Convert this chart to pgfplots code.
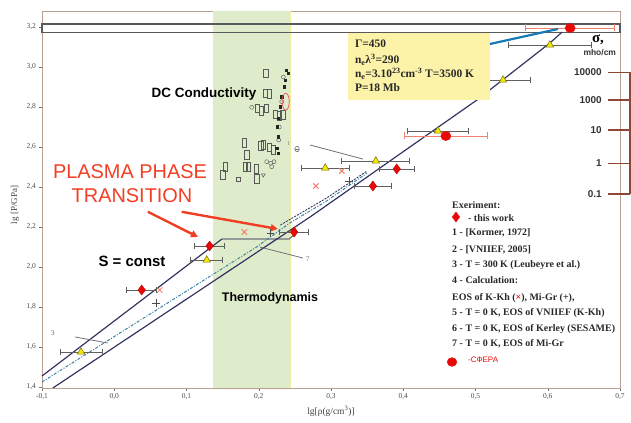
\documentclass[border=0pt]{standalone}
\usepackage{fontspec}
\setmainfont{Liberation Serif}
\newfontfamily\arialf{Liberation Sans}
\usepackage{pgfplots}
\pgfplotsset{compat=1.18}
\usetikzlibrary{arrows.meta}

\definecolor{navyline}{RGB}{52,52,98}
\definecolor{stepgrey}{RGB}{110,112,122}
\definecolor{tealdash}{RGB}{60,130,165}
\definecolor{bandgreen}{RGB}{223,236,203}
\definecolor{bandedge}{RGB}{238,238,160}
\definecolor{boxyellow}{RGB}{252,243,168}
\definecolor{pointer}{RGB}{20,122,182}
\definecolor{sigmabrown}{RGB}{140,72,52}
\definecolor{frametan}{RGB}{185,160,145}
\definecolor{ptred}{RGB}{232,8,8}
\definecolor{salmon}{RGB}{242,130,110}
\definecolor{triyellow}{RGB}{242,232,0}
\definecolor{triedge}{RGB}{120,110,20}
\definecolor{barGrey}{RGB}{95,95,95}
\definecolor{ppt}{RGB}{242,62,36}
\definecolor{legtext}{RGB}{40,40,40}

\begin{document}
\begin{tikzpicture}
\useasboundingbox (-42bp,-35bp) rectangle (589bp,388bp);
\begin{axis}[
  at={(0,0)}, anchor=south west,
  scale only axis, width=578bp, height=377bp,
  xmin=-0.1, xmax=0.7, ymin=1.395, ymax=3.28,
  clip=false,
  axis line style={draw=frametan, line width=0.8bp},
  xtick={-0.1,0,0.1,0.2,0.3,0.4,0.5,0.6,0.7},
  xticklabels={{-0,1},{0,0},{0,1},{0,2},{0,3},{0,4},{0,5},{0,6},{0,7}},
  ytick={1.4,1.6,1.8,2.0,2.2,2.4,2.6,2.8,3.0,3.2},
  yticklabels={{1,4},{1,6},{1,8},{2,0},{2,2},{2,4},{2,6},{2,8},{3,0},{3,2}},
  xtick pos=bottom, ytick pos=left, tick align=outside,
  major tick length=2.5bp,
  tick style={black!55, line width=0.5bp},
  ticklabel style={font=\fontsize{7.5}{9}\selectfont, text=black!70},
  error bars/error mark=|,
]

% shaded density interval of the transition
\addplot[fill=bandgreen, draw=none] coordinates {(0.1365,1.395) (0.1365,3.28) (0.244,3.28) (0.244,1.395)} -- cycle;
\addplot[bandedge, line width=1bp] coordinates {(0.244,1.395) (0.244,3.28)};

% strip at the top of the pressure range
\draw[black!65, line width=1.1bp] (axis cs:-0.1,3.173) rectangle (axis cs:0.7,3.215);

% model curves
\addplot[navyline, line width=1.2bp] coordinates {(-0.1,1.455) (0.149,2.14)};
\addplot[stepgrey, line width=1.1bp] coordinates {(0.149,2.14) (0.242,2.14) (0.25,2.165)};
\addplot[navyline, line width=1.2bp] coordinates {(-0.085,1.395) (0.271,2.25) (0.502,2.835) (0.603,3.12) (0.62,3.175)};
\addplot[tealdash, line width=1bp, dash pattern=on 3bp off 1.5bp on 1bp off 1.5bp] coordinates {(-0.1,1.425) (0.087,1.85) (0.197,2.10) (0.243,2.22) (0.294,2.33) (0.35,2.47)};
\addplot[navyline, line width=0.9bp, dash pattern=on 2bp off 1.2bp] coordinates {(0.23,2.21) (0.294,2.345) (0.35,2.48)};

% leader lines of the numbered curves
\addplot[stepgrey, line width=0.8bp] coordinates {(0.2015,2.10) (0.261,2.045)};
\addplot[stepgrey, line width=0.8bp] coordinates {(-0.054,1.65) (-0.009,1.62)};
\addplot[stepgrey, line width=0.8bp] coordinates {(0.271,2.61) (0.344,2.54)};
\addplot[only marks, mark=o, mark size=2.8bp, mark options={xscale=0.8, draw=black!55, line width=0.6bp}] coordinates {(0.253,2.59)};
\addplot[only marks, mark=-, mark size=2.2bp, mark options={draw=black!55, line width=0.6bp}] coordinates {(0.253,2.59)};
\node[font=\fontsize{7}{8}\selectfont, text=black!60, inner sep=0pt] at (axis cs:0.268,2.04) {7};
\node[font=\fontsize{7}{8}\selectfont, text=black!60, inner sep=0pt] at (axis cs:-0.085,1.67) {3};
\node[font=\fontsize{6}{7}\selectfont, text=black!50, inner sep=0pt] at (axis cs:0.241,2.615) {1};

% DC conductivity measurements
\addplot[only marks, mark=square, mark size=3.6bp, mark options={xscale=0.6, yscale=1.2, draw=black!65, fill=white, line width=0.6bp}] coordinates {
(0.2096,2.9685) (0.2087,2.8685) (0.2146,2.865) (0.198,2.7935) (0.2031,2.7815)
(0.21,2.7935) (0.2225,2.7635) (0.228,2.7565) (0.2331,2.76) (0.18,2.6215)
(0.1833,2.56) (0.2027,2.605) (0.2063,2.61) (0.2142,2.5985) (0.2201,2.585)
(0.181,2.5015) (0.1855,2.5015) (0.1962,2.49) (0.1972,2.44) (0.1533,2.5015)
(0.1501,2.46)};
\addplot[only marks, mark=square, mark size=2bp, mark options={draw=black!65, line width=0.5bp}] coordinates {(0.1717,2.4385)};
\addplot[only marks, mark=triangle, mark size=2.2bp, mark options={rotate=180, draw=black!65, line width=0.5bp}] coordinates {(0.2063,2.46)};
\addplot[only marks, mark=o, mark size=2bp, mark options={draw=black!60, line width=0.5bp}] coordinates {
(0.1902,2.7985) (0.211,2.5265) (0.2165,2.5185) (0.2211,2.5265) (0.2179,2.5015)
(0.234,2.95) (0.2318,2.8265) (0.2284,2.70) (0.2276,2.635)};
\addplot[only marks, mark=square*, mark size=1.2bp, mark options={fill=black!85, draw=black!85}] coordinates {
(0.2377,2.985) (0.2409,2.9685) (0.2363,2.935) (0.2349,2.9015) (0.2318,2.8515)
(0.2294,2.8015) (0.2271,2.7435) (0.2257,2.7015) (0.2271,2.6515) (0.2248,2.5935)
(0.2271,2.5685)};
\addplot[only marks, mark=o, mark size=8.5bp, mark options={xscale=0.42, draw=ptred!70, line width=0.7bp}] coordinates {(0.2373,2.8265)};

% calculations: K-Kh (x) and Mi-Gr (+)
\addplot[only marks, mark=x, mark size=3.8bp, mark options={draw=salmon, line width=1bp}] coordinates {
(0.063,1.885) (0.18,2.175) (0.279,2.405) (0.315,2.48)};
\addplot[only marks, mark=+, mark size=3.8bp, mark options={draw=black!70, line width=0.8bp}] coordinates {
(0.058,1.82) (0.216,2.17) (0.325,2.43)};

% shock-compression data with density error bars
\addplot[only marks, mark=triangle*, mark size=4.3bp, mark options={fill=triyellow, draw=triedge, line width=0.5bp},
  error bars/.cd, x dir=both, x explicit,
  error bar style={barGrey, line width=0.8bp},
  error mark options={barGrey, mark size=3bp, line width=0.8bp}]
  table[x=x, y=y, x error=ex] {
x      y     ex
-0.046 1.575 0.029
0.128  2.035 0.022
0.292  2.495 0.033
0.362  2.53  0.047
0.448  2.68  0.042
0.538  2.935 0.038
0.603  3.11  0.058
};
\addplot[only marks, mark=diamond*, mark size=5bp, mark options={fill=ptred, draw=ptred!80!black, line width=0.4bp},
  error bars/.cd, x dir=both, x explicit,
  error bar style={barGrey, line width=0.8bp},
  error mark options={barGrey, mark size=3bp, line width=0.8bp}]
  table[x=x, y=y, x error=ex] {
x     y     ex
0.038 1.885 0.021
0.132 2.105 0.021
0.249 2.175 0.02
0.358 2.405 0.026
0.391 2.49  0.024
};
\addplot[only marks, mark=*, mark size=4.6bp, mark options={fill=ptred, draw=ptred, xscale=1.1},
  error bars/.cd, x dir=both, x explicit,
  error bar style={salmon, line width=0.9bp},
  error mark options={salmon, mark size=3.5bp, line width=0.9bp}]
  table[x=x, y=y, x error=ex] {
x     y     ex
0.459 2.655 0.058
0.631 3.195 0.062
};

% annotations
\node[font=\arialf\bfseries\fontsize{13.5}{15}\selectfont, inner sep=0pt] at (axis cs:0.1242,2.865) {DC Conductivity};
\node[font=\arialf\fontsize{20}{22}\selectfont, text=ppt, inner sep=0pt] at (axis cs:0.0218,2.475) {PLASMA PHASE};
\node[font=\arialf\fontsize{20}{22}\selectfont, text=ppt, inner sep=0pt] at (axis cs:0.0246,2.355) {TRANSITION};
\node[font=\arialf\bfseries\fontsize{15}{17}\selectfont, inner sep=0pt] at (axis cs:0.0246,2.03) {S = const};
\node[font=\arialf\bfseries\fontsize{12.5}{14}\selectfont, inner sep=0pt] at (axis cs:0.2156,1.845) {Thermodynamis};
\draw[ppt, line width=2.4bp, -{Triangle[length=7bp,width=7bp]}] (axis cs:0.0466,2.276) -- (axis cs:0.116,2.15);
\draw[ppt, line width=2.4bp, -{Triangle[length=7bp,width=7bp]}] (axis cs:0.0933,2.276) -- (axis cs:0.2264,2.19);

% plasma parameters
\fill[boxyellow] (axis cs:0.324,2.835) rectangle (axis cs:0.52,3.17);
\draw[pointer, line width=2.2bp] (axis cs:0.52,3.115) -- (axis cs:0.614,3.19);
\begin{scope}[every node/.style={anchor=west, inner sep=0pt, text=legtext, font=\bfseries\fontsize{11.5}{13}\selectfont}]
\node at (axis cs:0.333,3.115) {Γ=450};
\node at (axis cs:0.333,3.035) {n\textsubscript{e}λ\textsuperscript{3}=290};
\node at (axis cs:0.333,2.965) {n\textsubscript{e}=3.10\textsuperscript{23}cm\textsuperscript{-3} T=3500 K};
\node at (axis cs:0.333,2.895) {P=18 Mb};
\end{scope}

% conductivity scale
\draw[sigmabrown, line width=1.2bp] (axis cs:0.7138,2.975) -- (axis cs:0.7138,2.365);
\draw[sigmabrown, line width=1.2bp] (axis cs:0.6834,2.974) -- (axis cs:0.7138,2.974);
\draw[sigmabrown, line width=1.2bp] (axis cs:0.6834,2.835) -- (axis cs:0.7138,2.835);
\draw[sigmabrown, line width=1.2bp] (axis cs:0.6834,2.685) -- (axis cs:0.7138,2.685);
\draw[sigmabrown, line width=1.2bp] (axis cs:0.6834,2.518) -- (axis cs:0.7138,2.518);
\draw[sigmabrown, line width=1.2bp] (axis cs:0.6834,2.365) -- (axis cs:0.7138,2.365);
\begin{scope}[every node/.style={anchor=east, inner sep=0pt, text=black!80, font=\arialf\bfseries\fontsize{10}{12}\selectfont}]
\node at (axis cs:0.675,2.974) {10000};
\node at (axis cs:0.675,2.835) {1000};
\node at (axis cs:0.675,2.685) {10};
\node at (axis cs:0.675,2.518) {1};
\node at (axis cs:0.675,2.365) {0.1};
\end{scope}
\node[inner sep=0pt, font=\bfseries\fontsize{15}{17}\selectfont] at (axis cs:0.6696,3.135) {σ,};
\node[inner sep=0pt, text=black!80, font=\arialf\bfseries\fontsize{8.5}{10}\selectfont] at (axis cs:0.672,3.07) {mho/cm};

% key
\begin{scope}[every node/.style={anchor=west, inner sep=0pt, text=legtext, font=\bfseries\fontsize{10}{12}\selectfont}]
\node at (axis cs:0.4675,2.31) {Exeriment:};
\node at (axis cs:0.4896,2.245) {- this work};
\node at (axis cs:0.4675,2.17) {1 - [Kormer, 1972]};
\node at (axis cs:0.4675,2.085) {2 - [VNIIEF, 2005]};
\node at (axis cs:0.4675,2.01) {3 - T = 300 K (Leubeyre et al.)};
\node at (axis cs:0.4675,1.935) {4 - Calculation:};
\node at (axis cs:0.4675,1.845) {EOS of K-Kh (\textcolor{ptred}{×}), Mi-Gr (+),};
\node at (axis cs:0.4675,1.77) {5 - T = 0 K, EOS of VNIIEF (K-Kh)};
\node at (axis cs:0.4675,1.69) {6 - T = 0 K, EOS of Kerley (SESAME)};
\node at (axis cs:0.4675,1.615) {7 - T = 0 K, EOS of Mi-Gr};
\end{scope}
\node[anchor=west, inner sep=0pt, text=ptred, font=\arialf\fontsize{8}{10}\selectfont] at (axis cs:0.4896,1.535) {-СФЕРА};
\addplot[only marks, mark=diamond*, mark size=5bp, mark options={fill=ptred, draw=ptred}] coordinates {(0.473,2.25)};
\addplot[only marks, mark=*, mark size=4.4bp, mark options={fill=ptred, draw=ptred, xscale=1.1}] coordinates {(0.4675,1.525)};

% axis titles
\node[rotate=90, inner sep=0pt, text=black!75, font=\fontsize{9}{11}\selectfont] at (axis cs:-0.1374,2.31) {lg [P/GPa]};
\node[inner sep=0pt, text=black!75, font=\fontsize{9.5}{11}\selectfont] at (axis cs:0.3,1.28) {lg[ρ(g/cm\textsuperscript{3})]};
\end{axis}
\end{tikzpicture}
\end{document}
